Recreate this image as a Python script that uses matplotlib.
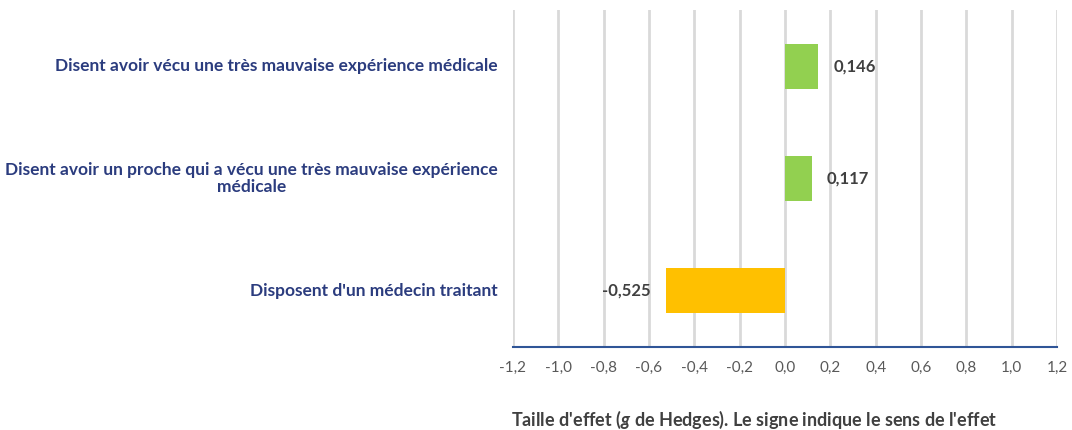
import matplotlib
matplotlib.use("Agg")
import matplotlib.pyplot as plt

categories = [
    "Disent avoir vécu une très mauvaise expérience médicale",
    "Disent avoir un proche qui a vécu une très mauvaise expérience\nmédicale",
    "Disposent d'un médecin traitant",
]
effects = [0.146, 0.117, -0.525]
value_labels = ["0,146", "0,117", "-0,525"]
ticks = [-1.2, -1.0, -0.8, -0.6, -0.4, -0.2, 0.0, 0.2, 0.4, 0.6, 0.8, 1.0, 1.2]
tick_labels = ["-1,2", "-1,0", "-0,8", "-0,6", "-0,4", "-0,2", "0,0",
               "0,2", "0,4", "0,6", "0,8", "1,0", "1,2"]

plt.rcParams["font.family"] = ["Lato", "DejaVu Sans"]
plt.rcParams["mathtext.fontset"] = "custom"
plt.rcParams["mathtext.bfit"] = "Lato:bold:italic"

POS = "#92D050"
NEG = "#FFC000"
NAVY = "#2B3C7E"
DARK = "#404040"

fig = plt.figure(figsize=(10.72, 4.30), dpi=100)
ax = fig.add_axes([513 / 1072, 83 / 430, 544 / 1072, 337 / 430])

ypos = list(range(len(categories)))
colors = [POS if v >= 0 else NEG for v in effects]
ax.barh(ypos, effects, height=0.4, color=colors, zorder=3)

ax.set_xlim(-1.2, 1.2)
ax.set_ylim(2.5, -0.5)
ax.set_xticks(ticks)
ax.set_xticklabels(tick_labels, fontsize=11, color="#595959")
ax.tick_params(axis="x", length=0, pad=10)
ax.set_yticks([])

ax.grid(axis="x", color="#D9D9D9", linewidth=2, zorder=0)
for s in ["top", "left", "right"]:
    ax.spines[s].set_visible(False)
ax.spines["bottom"].set_color("#2F5597")
ax.spines["bottom"].set_linewidth(1.5)
ax.spines["bottom"].set_zorder(4)

for y, v, lab in zip(ypos, effects, value_labels):
    if v >= 0:
        ax.annotate(lab, (v, y), xytext=(11, 0), textcoords="offset points",
                    ha="left", va="center", fontsize=12, fontweight="bold", color=DARK)
    else:
        ax.annotate(lab, (v, y), xytext=(-11, 0), textcoords="offset points",
                    ha="right", va="center", fontsize=12, fontweight="bold", color=DARK)

for y, cat in zip(ypos, categories):
    ax.annotate(cat, (0, y), xycoords=("axes fraction", "data"),
                xytext=(-11, 0), textcoords="offset points",
                ha="right", va="center", multialignment="center",
                fontsize=12.5, fontweight="bold", color=NAVY, linespacing=1.15)

fig.text(511 / 1072, 1 - 420 / 430,
         "Taille d'effet ($\\mathbfit{g}$ de Hedges). Le signe indique le sens de l'effet",
         ha="left", va="center", fontsize=13, fontweight="bold", color=DARK)

fig.savefig("out.png", dpi=100)
